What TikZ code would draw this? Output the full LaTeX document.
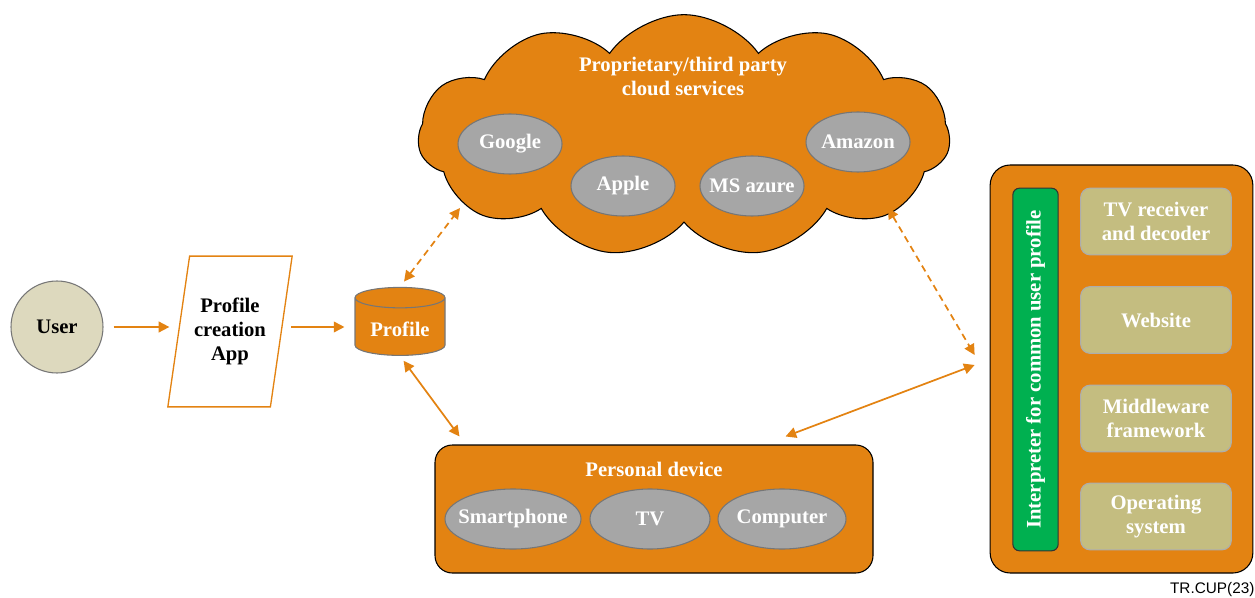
\documentclass[tikz,border=0pt]{standalone}
\usepackage{fontspec}
\setmainfont{Liberation Serif}
\newfontfamily\tagfont{Liberation Sans}
\usetikzlibrary{positioning,shapes.geometric,shapes.symbols,arrows.meta,calc}

\definecolor{cuporange}{RGB}{227,131,18}
\definecolor{ovalgray}{RGB}{166,166,166}
\definecolor{ovalline}{RGB}{118,118,118}
\definecolor{usertan}{RGB}{221,217,190}
\definecolor{layertan}{RGB}{196,189,128}
\definecolor{interpgreen}{RGB}{0,176,80}

\begin{document}
\begin{tikzpicture}[x=0.75pt, y=-0.75pt,
    font=\bfseries\fontsize{15.5}{18}\selectfont,
    >={Triangle[length=8pt,width=8pt]},
    disc/.style={circle, draw=ovalline, fill=usertan, line width=0.8pt, minimum size=69pt, text=black},
    para/.style={trapezium, trapezium left angle=74, trapezium right angle=106, trapezium stretches=true,
        draw=cuporange, fill=white, line width=1pt, minimum width=91.5pt, minimum height=113pt,
        align=center, text=black},
    drum/.style={cylinder, shape border rotate=90, aspect=0.3, draw=ovalline, fill=cuporange,
        line width=0.8pt, minimum width=67.5pt, minimum height=51pt, text=white},
    puffy/.style={cloud, cloud puffs=11, cloud puff arc=110, aspect=2.2, draw=black, fill=cuporange,
        line width=0.8pt, minimum width=399pt, minimum height=182pt},
    panel/.style={rectangle, rounded corners=13pt, draw=black, fill=cuporange, line width=0.8pt},
    oval/.style={ellipse, draw=ovalline, fill=ovalgray, line width=0.8pt, minimum height=45pt,
        inner xsep=-10pt, inner ysep=0pt, text=white},
    title/.style={align=center, text=white},
    bar/.style={rectangle, rounded corners=5pt, draw=black!80, fill=interpgreen, line width=0.8pt,
        minimum width=272pt, minimum height=34pt, rotate=90, text=white},
    layer/.style={rectangle, rounded corners=7pt, draw=ovalline!60, fill=layertan, line width=0.8pt,
        minimum width=113pt, minimum height=50pt, align=center, text=white},
    flow/.style={draw=cuporange, line width=1.3pt},
    loose/.style={flow, dash pattern=on 5pt off 3.5pt}
]
\useasboundingbox (0,0) rectangle (1255,598);

% left part
\node [disc] (User) at (57,327) {User};
\node [para] (App) at (230,331.5) {Profile\\creation\\App};
\node [drum] (Profile) at (400,329) {Profile};

% cloud services
\node [puffy] (Cloud) at (684,136) {};
\node [title] (CloudTitle) at (683,76) {Proprietary/third party\\cloud services};
\foreach \name/\pos/\txt in {Google/{510,144}/Google, Apple/{623,186}/Apple,
    Azure/{752,186}/MS azure, Amazon/{858,142}/Amazon}
    \node [oval, minimum width=78pt] (\name) at (\pos) {\txt};

% personal device
\node [panel, minimum width=328.5pt, minimum height=96pt] (Device) at (654,509) {};
\node [title] (DeviceTitle) at (654,469) {Personal device};
\foreach \name/\x/\w/\txt in {Phone/513/102/Smartphone, TV/650/90/TV, Computer/782/96/Computer}
    \node [oval, minimum width=\w pt] (\name) at (\x,519) {\txt};

% host with interpreter
\node [panel, rounded corners=15pt, minimum width=197pt, minimum height=306pt] (Host) at (1121.5,369) {};
\node [bar] (Interp) at (1035.5,369.5) {Interpreter for common user profile};
\foreach \name/\y/\txt in {Receiver/221.5/{TV receiver\\and decoder}, Web/320/Website,
    Middle/418.5/{Middleware\\framework}, System/516.5/{Operating\\system}}
    \node [layer] (\name) at (1156,\y) {\txt};

\node [font=\tagfont\fontsize{11.5}{12}\selectfont, anchor=south east, inner sep=1pt] (Tag) at (1256,598) {TR.CUP(23)};

% contact points
\coordinate (CloudL) at ($(Cloud.center)+(-224,72)$);
\coordinate (CloudR) at ($(Cloud.center)+(204,72)$);
\coordinate (HostA) at ($(Host.west)+(-15,-14)$);
\coordinate (HostB) at ($(Host.west)+(-15,-4)$);
\coordinate (DevL) at ($(Device.north west)+(25,-8)$);
\coordinate (DevR) at ($(Device.north east)+(-88,-8)$);

% links
\draw [flow, ->, shorten <=7.5pt, shorten >=6.5pt] (User.east) -- (User.east -| App.west);
\draw [flow, ->, shorten <=7pt, shorten >=7.5pt] (App.east |- User.east) -- (User.east -| Profile.west);
\draw [loose, <->, shorten <=5pt] (Profile.north) -- (CloudL);
\draw [loose, <->] (CloudR) -- (HostA);
\draw [flow, <->, shorten <=4.5pt] (Profile.south) -- (DevL);
\draw [flow, <->] (DevR) -- (HostB);

\end{tikzpicture}
\end{document}
